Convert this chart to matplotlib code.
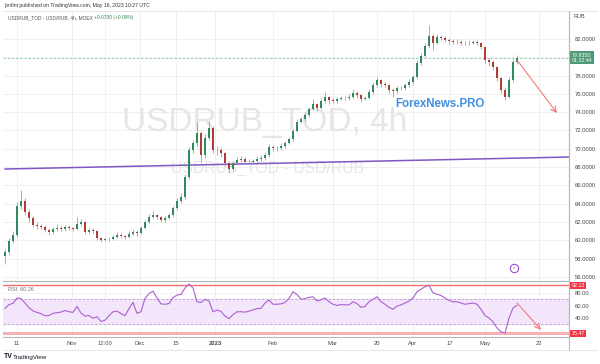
import numpy as np
import matplotlib.pyplot as plt

plt.rcParams['font.family'] = ['Liberation Sans', 'DejaVu Sans']

# 4h candles (one candle per ~4 px)
close = [58.72, 59.93, 60.6, 63.7, 64.3, 63.1, 62.45, 61.7, 61.55, 61.45,
         61.1, 60.9, 61.2, 61.3, 61.2, 61.45, 61.3, 61.2, 61.75, 62.0,
         60.9, 61.1, 61.0, 60.25, 60.05, 60.1, 60.15, 60.35, 60.6, 60.45,
         60.35, 60.7, 60.9, 60.8, 61.35, 62.0, 62.55, 62.75, 62.55, 62.2,
         62.45, 62.75, 63.5, 64.3, 64.7, 66.9, 69.85, 70.6, 71.7, 69.3,
         71.2, 72.3, 69.85, 69.9, 69.5, 68.45, 67.8, 68.45, 68.8, 68.9,
         68.55, 68.6, 68.65, 68.9, 69.0, 69.3, 70.2, 70.1, 70.05, 70.3,
         70.65, 71.05, 71.95, 72.95, 73.25, 73.7, 74.35, 74.9, 74.45, 75.2,
         75.65, 75.3, 75.2, 75.45, 75.55, 75.5, 75.65, 76.1, 75.9, 75.45,
         75.55, 76.2, 76.95, 77.5, 77.1, 76.95, 76.4, 76.3, 76.65, 76.6,
         76.95, 77.3, 77.85, 79.4, 80.15, 81.25, 82.3, 81.6, 82.2, 82.15,
         81.9, 81.8, 81.65, 81.7, 81.6, 81.55, 81.6, 81.65, 81.55, 81.1,
         79.7, 79.5, 78.95, 77.75, 76.45, 75.65, 77.5, 79.5, 79.935]
first_open = 58.3
high = [59.0, 60.2, 61.0, 64.2, 65.5, 64.6, 63.4, 62.7, 62.0, 61.8,
        61.7, 61.3, 61.5, 61.8, 61.6, 61.7, 61.7, 61.5, 62.5, 62.3,
        62.1, 61.3, 61.3, 61.1, 60.4, 60.3, 60.4, 60.6, 60.9, 60.8,
        60.6, 61.0, 61.2, 61.1, 61.6, 62.2, 62.9, 63.2, 62.9, 62.7,
        62.7, 63.0, 63.8, 64.6, 65.2, 67.2, 70.2, 71.0, 72.9, 71.9,
        71.6, 73.0, 72.5, 70.3, 70.1, 69.7, 68.6, 68.7, 69.1, 69.2,
        69.1, 68.9, 68.9, 69.2, 69.3, 69.6, 70.5, 70.4, 70.3, 70.6,
        70.9, 71.3, 72.2, 73.3, 73.5, 74.0, 74.6, 75.4, 75.0, 75.5,
        76.2, 75.8, 75.5, 75.7, 75.8, 75.8, 76.0, 76.5, 76.3, 76.0,
        75.8, 76.5, 77.3, 77.9, 77.6, 77.3, 77.1, 76.6, 76.9, 76.9,
        77.2, 77.6, 78.1, 79.7, 80.5, 81.6, 83.5, 82.5, 82.6, 82.4,
        82.3, 82.1, 82.0, 82.0, 81.9, 81.8, 81.9, 81.9, 81.9, 81.7,
        81.2, 79.9, 79.7, 79.1, 77.9, 76.7, 77.8, 79.8, 80.3]
low = [57.4, 58.5, 59.7, 60.4, 63.4, 62.8, 62.0, 61.4, 61.2, 61.2,
       60.9, 60.6, 60.7, 61.0, 61.0, 61.0, 61.1, 61.0, 61.1, 61.6,
       60.7, 60.7, 60.8, 60.0, 59.8, 59.9, 59.9, 60.0, 60.2, 60.3,
       60.1, 60.2, 60.6, 60.5, 60.7, 61.2, 61.9, 62.4, 62.3, 62.0,
       62.0, 62.3, 62.6, 63.3, 64.1, 64.5, 66.7, 69.5, 70.3, 68.6,
       69.0, 71.0, 69.5, 69.3, 69.1, 68.1, 67.3, 67.6, 68.3, 68.6,
       68.3, 68.3, 68.4, 68.5, 68.7, 68.8, 69.1, 69.8, 69.8, 69.9,
       70.1, 70.5, 70.9, 71.8, 72.8, 73.0, 73.5, 74.2, 74.1, 74.3,
       75.0, 74.9, 75.0, 75.0, 75.3, 75.3, 75.3, 75.5, 75.6, 75.1,
       75.3, 75.4, 76.0, 76.8, 76.8, 76.7, 76.1, 75.7, 76.1, 76.4,
       76.4, 76.8, 77.1, 77.7, 79.2, 80.0, 81.0, 80.8, 81.4, 81.9,
       81.7, 81.5, 81.4, 81.4, 81.3, 81.3, 81.3, 81.4, 81.3, 80.9,
       79.4, 79.1, 78.6, 77.4, 76.1, 75.3, 75.5, 77.3, 79.3]

# RSI(14), one value per candle
rsi = [55.5, 61.3, 63.5, 72, 71, 64, 56.5, 51.2, 49, 47,
       43.5, 44, 47.5, 48.5, 49.5, 52, 50, 49, 58.5, 48,
       43, 44, 39.5, 42, 34.4, 36.5, 43.5, 50, 51, 47,
       43.7, 55, 65, 47.5, 50, 71.5, 79, 83, 72, 62.5,
       62, 63, 72.5, 76.8, 77.8, 88, 94.5, 88, 66, 64.8,
       69.8, 67, 50, 52.8, 50.5, 43, 38.8, 45.5, 50, 50,
       49.4, 51, 52.8, 55, 55.5, 64, 68.7, 62, 62, 62.6,
       64.8, 71, 82, 77.5, 70, 71, 73, 74, 67, 69,
       72, 66, 62, 60, 61.5, 61, 61, 66, 63, 57,
       58.5, 66, 70, 74, 66, 62, 57, 54, 59, 61,
       64, 67, 72, 82, 86, 90, 92.5, 80, 78, 76,
       72, 68, 66, 66, 64, 62, 63, 64, 62, 54,
       44, 40, 34, 24, 18, 16, 40, 56, 60.26]

tick_pos = [3, 16.75, 25, 33.75, 42.75, 52.5, 67, 82, 93, 102, 111.25, 120, 133.5]
tick_lbl = ['11', 'Nov', '12:00', 'Dec', '15', '2023', 'Feb', 'Mar', '20',
            'Apr', '17', 'May', '22']
price_ticks = list(range(56, 84, 2))
last_price = 79.935
trend = [(0, 67.79), (141, 69.10)]       # user trendline (bar, price)
arrow_main = [(128, 79.7), (138, 73.9)]
arrow_rsi = [(128, 64), (134, 21)]
rsi_hi, rsi_lo = 92.13, 15.47

UP, DOWN, WICK = '#2f8a5f', '#b23a35', '#a0a0a0'
GRID = '#f0f0f0'
AXC = '#b8b8b8'
TXT = '#4a4a4a'

n = len(close)
x = np.arange(n)
opn = np.array([first_open] + close[:-1])
cls = np.array(close)
up = cls >= opn
cols = np.where(up, UP, DOWN)

W, H = 600, 364
fig = plt.figure(figsize=(W / 100, H / 100), dpi=100)
ax = fig.add_axes([3 / W, (H - 280) / H, 566 / W, 269 / H])
ar = fig.add_axes([3 / W, (H - 337) / H, 566 / W, 56 / H], sharex=ax)

# ---- main pane ----
ax.set_xlim(-0.5, 141)
ax.set_ylim(55.66, 85.06)
for t in tick_pos:
    ax.axvline(t, color=GRID, lw=0.7, zorder=0)
    ar.axvline(t, color=GRID, lw=0.7, zorder=0)
for p in price_ticks:
    ax.axhline(p, color=GRID, lw=0.7, zorder=0)

ax.text(0.463, 0.587, 'USDRUB_TOD, 4h', transform=ax.transAxes, ha='center',
        va='center', fontsize=24, color='#e6e6e6', zorder=0.5)
ax.text(0.468, 0.413, 'USDRUB_TOD - USD/RUB', transform=ax.transAxes,
        ha='center', va='center', fontsize=11.3, color='#e6e6e6', zorder=0.5)

ax.plot([trend[0][0], trend[1][0]], [trend[0][1], trend[1][1]],
        color='#7e57c2', lw=1.1, zorder=2)
ax.axhline(last_price, color='#8cc9ae', lw=0.6, ls=(0, (3, 2)), zorder=1)

ax.vlines(x, low, high, color=WICK, lw=0.6, zorder=3)
body = np.maximum(np.abs(cls - opn), 0.06)
ax.bar(x, body, bottom=np.minimum(cls, opn), width=0.5, color=cols,
       linewidth=0, zorder=4)

ax.annotate('', xy=arrow_main[1], xytext=arrow_main[0],
            arrowprops=dict(arrowstyle='->', color='#f47a7d', lw=0.8,
                            shrinkA=0, shrinkB=0), zorder=5)

ax.text(0.772, 0.654, 'ForexNews.PRO', transform=ax.transAxes, ha='center',
        va='center', fontsize=8.3, color='#3f8fe0', weight='semibold', zorder=6)

# small event marker near the bottom of the price pane
ax.plot([127.2], [56.95], marker='o', ms=6, mfc='white', mec='#9c4dcc',
        mew=0.8, zorder=6)
ax.text(127.2, 56.95, '#', ha='center', va='center', fontsize=3,
        color='#9c4dcc', zorder=7)

ax.yaxis.tick_right()
ax.set_yticks(price_ticks)
ax.set_yticklabels(['' if p == 80 else '%.4f' % p for p in price_ticks])
ax.tick_params(axis='y', length=0, pad=4, labelsize=4.2, labelcolor=TXT)
ax.tick_params(axis='x', length=0, labelbottom=False)
for s in ['top', 'left', 'bottom']:
    ax.spines[s].set_visible(False)
ax.spines['right'].set_color(AXC)
ax.spines['right'].set_linewidth(0.8)

ax.annotate('79.9350\n01:32:44', xy=(1.0, last_price),
            xycoords=('axes fraction', 'data'), xytext=(2, 0),
            textcoords='offset points', ha='left', va='center', fontsize=3.8,
            color='white', linespacing=1.1, annotation_clip=False,
            bbox=dict(boxstyle='square,pad=0.25', fc='#4c9a73', ec='none'))

# ---- RSI pane ----
ar.set_ylim(9.6, 99.2)
ar.axhspan(30, 70, color='#f3e5fb', zorder=0)
for lv in (70, 30):
    ar.axhline(lv, color='#b9a6c2', lw=0.6, ls=(0, (3, 2)), zorder=1)
for lv in (80, 60, 40):
    ar.axhline(lv, color=GRID, lw=0.6, zorder=0.5)
ar.axhline(rsi_hi, color='#f26d6d', lw=1.0, zorder=2)
ar.axhline(rsi_lo, color='#f7b3b3', lw=2.2, zorder=2)
ar.plot(x, rsi, color='#ad5fcf', lw=0.8, zorder=3)
ar.annotate('', xy=arrow_rsi[1], xytext=arrow_rsi[0],
            arrowprops=dict(arrowstyle='->', color='#f47a7d', lw=0.8,
                            shrinkA=0, shrinkB=0), zorder=5)
ar.text(0.008, 0.84, 'RSI  60.26', transform=ar.transAxes, fontsize=4.0,
        color='#777777', va='center')

ar.yaxis.tick_right()
ar.set_yticks([80, 60, 40])
ar.set_yticklabels(['80.00', '60.00', '40.00'])
ar.tick_params(axis='y', length=0, pad=4, labelsize=4.2, labelcolor=TXT)
for lv, lab in ((rsi_hi, '92.13'), (rsi_lo, '15.47')):
    ar.annotate(lab, xy=(1.0, lv), xycoords=('axes fraction', 'data'),
                xytext=(2, 0), textcoords='offset points', ha='left',
                va='center', fontsize=3.8, color='white',
                annotation_clip=False,
                bbox=dict(boxstyle='square,pad=0.25', fc='#f23645', ec='none'))

ar.set_xticks(tick_pos)
ar.set_xticklabels(tick_lbl)
ar.tick_params(axis='x', length=0, pad=3, labelsize=4.2, labelcolor=TXT)
for lab in ar.get_xticklabels():
    if lab.get_text() == '2023':
        lab.set_fontweight('bold')
ar.spines['top'].set_color(AXC)
ar.spines['top'].set_linewidth(0.8)
ar.spines['left'].set_visible(False)
ar.spines['right'].set_color(AXC)
ar.spines['right'].set_linewidth(0.8)
ar.spines['bottom'].set_color(AXC)
ar.spines['bottom'].set_linewidth(0.8)

# axis column and frame lines
fig.add_artist(plt.Line2D([569 / W, 569 / W], [(H - 350) / H, (H - 11) / H],
                          color=AXC, lw=0.8))
fig.add_artist(plt.Line2D([3 / W, 597 / W], [(H - 350) / H, (H - 350) / H],
                          color='#e0e0e0', lw=0.6))
fig.add_artist(plt.Line2D([3 / W, 597 / W], [(H - 11) / H, (H - 11) / H],
                          color='#e0e0e0', lw=0.6))

# header / footer text
fig.text(4 / W, 1 - 6 / H, 'jonfint published on TradingView.com, May 16, 2023 10:27 UTC',
         fontsize=3.7, color='#333333', va='center')
fig.text(8 / W, 1 - 18 / H, 'USDRUB_TOD - USD/RUB, 4h, MOEX', fontsize=3.5,
         color='#555555', va='center')
fig.text(94 / W, 1 - 18 / H, '+0.0700 (+0.09%)', fontsize=3.5,
         color='#2e8b57', va='center')
fig.text(573 / W, 1 - 17 / H, 'RUB', fontsize=4.0, color=TXT, va='center')
fig.text(4 / W, 1 - 357 / H, 'TV', fontsize=5, weight='bold', color='#131722',
         va='center')
fig.text(13 / W, 1 - 357 / H, 'TradingView', fontsize=4.5, color='#131722',
         va='center')

fig.savefig('out.png', dpi=100, facecolor='white')
